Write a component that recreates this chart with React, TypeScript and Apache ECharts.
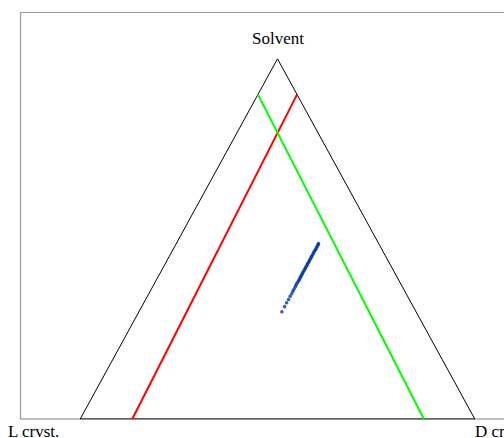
import React, { useEffect, useRef } from "react";
import * as echarts from "echarts";

// Ternary diagram projected onto a plane: L crvst. at (0,0), D crvst. at (1,0),
// Solvent at the apex (0.5,1). Points are given as projected [x, y] pairs.
const triangleX = [0, 0.5, 1, 0];
const triangleY = [0, 1, 0, 0];

const redLineX = [0.132, 0.55];
const redLineY = [0, 0.902];

const greenLineX = [0.45, 0.871];
const greenLineY = [0.902, 0];

const blueX = [
  0.511, 0.518, 0.523, 0.528, 0.532, 0.536, 0.539, 0.542, 0.545, 0.547, 0.549,
  0.552, 0.554, 0.556, 0.558, 0.559, 0.561, 0.563, 0.564, 0.566, 0.568, 0.57,
  0.571, 0.573, 0.575, 0.576, 0.578, 0.58, 0.581, 0.583, 0.585, 0.586, 0.588,
  0.59, 0.591, 0.593, 0.595, 0.597, 0.598, 0.6, 0.602, 0.603, 0.604,
];
const blueY = [
  0.298, 0.312, 0.323, 0.332, 0.341, 0.348, 0.355, 0.361, 0.367, 0.372, 0.377,
  0.381, 0.385, 0.389, 0.393, 0.396, 0.4, 0.403, 0.407, 0.41, 0.414, 0.417,
  0.42, 0.424, 0.427, 0.431, 0.434, 0.437, 0.441, 0.444, 0.448, 0.451, 0.454,
  0.458, 0.461, 0.465, 0.468, 0.471, 0.475, 0.478, 0.482, 0.485, 0.487,
];

const cornerLabels = ["L crvst.", "D crvst.", "Solvent"];

const zip = (xs: number[], ys: number[]) => xs.map((x, i) => [x, ys[i]]);

const FONT_FAMILY = "'Times New Roman', 'Liberation Serif', serif";
const FONT_SIZE = 17;

// Plot frame (the right side runs off the page)
const FRAME_LEFT = 20.5;
const FRAME_TOP = 12.5;
const FRAME_BOTTOM = 419;
const FRAME_COLOR = "#9a9a9a";

export default function App() {
  const ref = useRef<HTMLDivElement>(null);

  useEffect(() => {
    if (!ref.current) return;
    const chart = echarts.init(ref.current, null, { renderer: "svg" });
    const textStyle = {
      fontFamily: FONT_FAMILY,
      fontSize: FONT_SIZE,
      fill: "#000000",
    };
    chart.setOption({
      animation: false,
      backgroundColor: "#ffffff",
      grid: {
        show: false,
        left: 21,
        top: 12,
        right: 0,
        height: 407,
      },
      xAxis: {
        type: "value",
        min: -0.15,
        max: 1.074,
        show: false,
      },
      yAxis: {
        type: "value",
        min: 0,
        max: 1.13,
        show: false,
      },
      series: [
        {
          type: "line",
          data: zip(triangleX, triangleY),
          symbol: "none",
          lineStyle: { color: "#000000", width: 1 },
          silent: true,
        },
        {
          type: "line",
          data: zip(redLineX, redLineY),
          symbol: "none",
          lineStyle: { color: "#ff0000", width: 2 },
          silent: true,
        },
        {
          type: "line",
          data: zip(greenLineX, greenLineY),
          symbol: "none",
          lineStyle: { color: "#00ff00", width: 2 },
          silent: true,
        },
        {
          type: "scatter",
          data: zip(blueX, blueY),
          symbolSize: 3.5,
          itemStyle: { color: "#0438a6" },
          silent: true,
        },
      ],
      graphic: [
        {
          type: "polyline",
          shape: {
            points: [
              [FRAME_LEFT, FRAME_BOTTOM],
              [FRAME_LEFT, FRAME_TOP],
              [506, FRAME_TOP],
            ],
          },
          style: { stroke: FRAME_COLOR, lineWidth: 1.2, fill: "none" },
          silent: true,
        },
        {
          type: "line",
          shape: { x1: FRAME_LEFT, y1: FRAME_BOTTOM, x2: 506, y2: FRAME_BOTTOM },
          style: { stroke: "#808080", lineWidth: 1.2 },
          silent: true,
        },
        {
          type: "text",
          left: 8,
          top: 423,
          style: { ...textStyle, text: cornerLabels[0] },
        },
        {
          type: "text",
          left: 475,
          top: 423,
          style: { ...textStyle, text: cornerLabels[1] },
        },
        {
          type: "text",
          x: 278,
          y: 38,
          style: {
            ...textStyle,
            text: cornerLabels[2],
            align: "center",
            verticalAlign: "middle",
          },
        },
      ],
    });
    return () => chart.dispose();
  }, []);

  return (
    <div
      ref={ref}
      style={{ position: "absolute", left: 0, top: 0, width: 504, height: 438 }}
    />
  );
}
